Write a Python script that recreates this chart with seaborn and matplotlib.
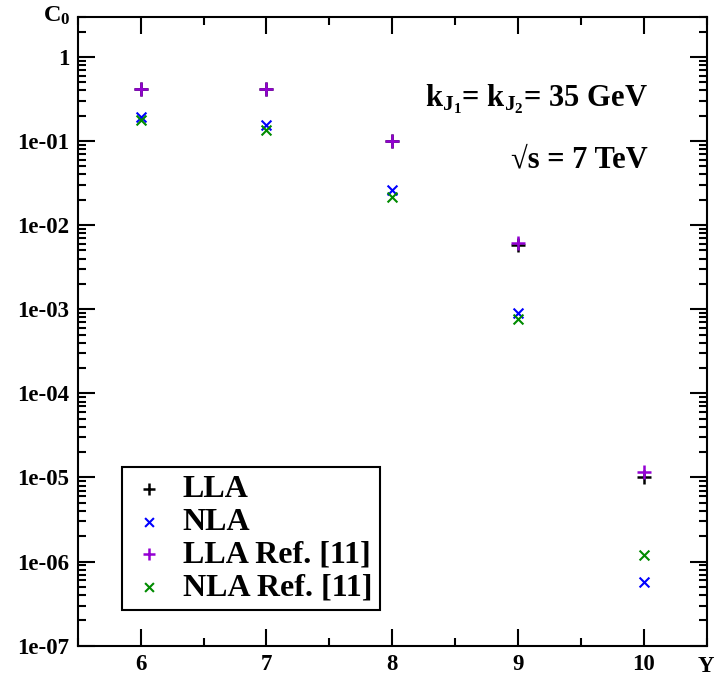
import numpy as np
import pandas as pd
import matplotlib
matplotlib.use("Agg")
import matplotlib.pyplot as plt
from matplotlib.ticker import FixedLocator, FuncFormatter, LogLocator, MultipleLocator, NullFormatter
import seaborn as sns

# rapidity interval Y and C0 values
rapidity = [6, 7, 8, 9, 10]
c0_lla = [0.41, 0.41, 0.099, 0.0058, 1.02e-5]
c0_nla = [0.193, 0.155, 0.0261, 9.0e-4, 5.7e-7]
c0_lla_ref = [0.415, 0.42, 0.1, 0.00607, 1.17e-5]
c0_nla_ref = [0.178, 0.135, 0.0216, 7.6e-4, 1.19e-6]

labels = ["LLA", "NLA", "LLA Ref. [11]", "NLA Ref. [11]"]
colors = ["black", "#0000ff", "#9400d3", "#008b00"]
markers = ["+", "x", "+", "x"]
y_ticks = [1e-7, 1e-6, 1e-5, 1e-4, 1e-3, 1e-2, 1e-1, 1]

sns.set_style("ticks")
plt.rcParams['font.family'] = ['Liberation Serif', 'DejaVu Serif']
plt.rcParams['font.weight'] = 'bold'
plt.rcParams['mathtext.fontset'] = 'custom'
plt.rcParams['mathtext.rm'] = 'Liberation Serif:bold'
plt.rcParams['mathtext.it'] = 'Liberation Serif:bold'
plt.rcParams['mathtext.bf'] = 'Liberation Serif:bold'
for key in ['text.color', 'axes.labelcolor', 'xtick.color', 'ytick.color', 'axes.edgecolor']:
    plt.rcParams[key] = 'black'

fig = plt.figure(figsize=(7.15, 6.8), dpi=100)
ax = fig.add_axes([0.1087, 0.0504, 0.8797, 0.925])

series = [c0_lla, c0_nla, c0_lla_ref, c0_nla_ref]
for vals, lab, col, mk in zip(series, labels, colors, markers):
    size = 90 if mk == "+" else 50
    lw = 1.8 if mk == "+" else 1.5
    sns.scatterplot(x=rapidity, y=vals, marker=mk, color=col, s=size,
                    linewidth=lw, label=lab, ax=ax, zorder=3)

ax.set_yscale("log")
ax.set_xlim(5.5, 10.5)
ax.set_ylim(1e-7, 3.0)

ax.yaxis.set_major_locator(FixedLocator(y_ticks))
ax.yaxis.set_major_formatter(FuncFormatter(
    lambda v, _: "1" if abs(v - 1) < 1e-9 else f"1e-{int(round(-np.log10(v))):02d}"))
ax.yaxis.set_minor_locator(LogLocator(base=10, subs=np.arange(2, 10), numticks=20))
ax.yaxis.set_minor_formatter(NullFormatter())
ax.xaxis.set_major_locator(FixedLocator(rapidity))
ax.xaxis.set_minor_locator(MultipleLocator(0.5))

ax.tick_params(which='both', direction='in', top=True, right=True, width=1.5, colors='black')
ax.tick_params(which='major', length=12, labelsize=16.5, pad=6)
ax.tick_params(which='minor', length=6)
for sp in ax.spines.values():
    sp.set_linewidth(1.5)
    sp.set_color("black")
ax.set_xlabel("")
ax.set_ylabel("")

ax.text(0.9067, 0.857, r"k$_{\mathrm{J}_{1}}$= k$_{\mathrm{J}_{2}}$= 35 GeV", transform=ax.transAxes,
        ha='right', va='baseline', fontsize=22, fontweight='bold', color='black')
ax.text(0.9067, 0.761, "\u221as = 7 TeV", transform=ax.transAxes,
        ha='right', va='baseline', fontsize=22, fontweight='bold', color='black')

fig.text(43 / 715, 1 - 22 / 680, r"C$_0$", ha='left', va='baseline', fontsize=17.5,
         fontweight='bold', color='black')
fig.text(698 / 715, 1 - 672 / 680, "Y", ha='left', va='baseline', fontsize=16.5,
         fontweight='bold', color='black')

leg = ax.legend(loc='lower left', bbox_to_anchor=(0.0704, 0.0568), borderaxespad=0,
                frameon=True, fancybox=False, edgecolor='black', framealpha=1,
                fontsize=23, labelspacing=0.1, handlelength=1.2, handletextpad=0.45,
                borderpad=0.25, markerscale=0.9)
leg.get_frame().set_linewidth(1.5)
for t in leg.get_texts():
    t.set_color('black')

plt.savefig("out.png", dpi=100)
